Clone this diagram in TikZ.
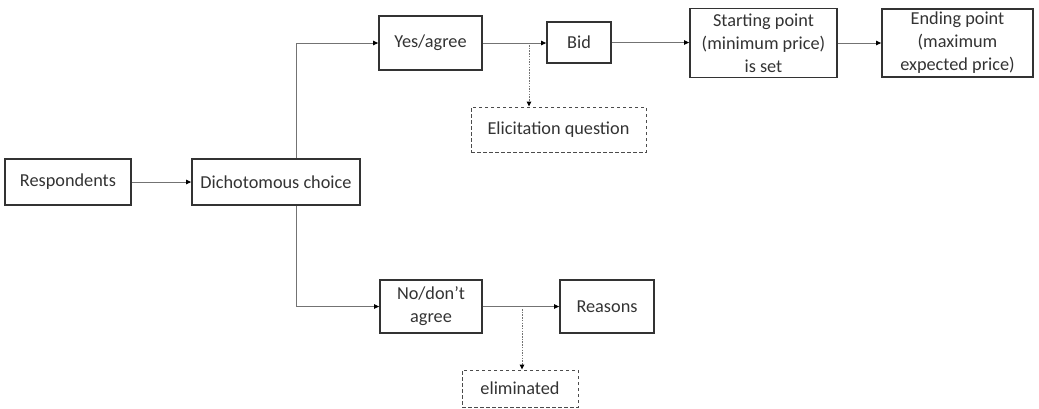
\documentclass[tikz,border=0pt]{standalone}
\usepackage{fontspec}
\setmainfont{Carlito}
\usetikzlibrary{arrows.meta}
\newlength{\du}
\setlength{\du}{0.75pt}

\begin{document}
\begin{tikzpicture}[
  box/.style={draw=boxcolor, line width=1.8\du, text=textcolor, align=center,
    inner sep=0pt, font=\fontsize{13.7}{17.2}\selectfont},
  dashbox/.style={box, draw=dashcolor, line width=1\du, dash pattern=on 3.5\du off 2.5\du},
  link/.style={draw=linkcolor, line width=1\du, -{Triangle[length=3.75pt,width=3.4pt,color=black]}},
  taplink/.style={link, dash pattern=on 1.5\du off 1.2\du},
]
\pgftransformxscale{1.000000}
\pgftransformyscale{-1.000000}
\definecolor{boxcolor}{rgb}{0.200000, 0.200000, 0.200000}
\definecolor{dashcolor}{rgb}{0.300000, 0.300000, 0.300000}
\definecolor{textcolor}{rgb}{0.200000, 0.200000, 0.200000}
\definecolor{linkcolor}{rgb}{0.450000, 0.450000, 0.450000}
\useasboundingbox (0\du,0\du) rectangle (1039\du,408\du);
% boxes
\node[box, minimum width=126\du, minimum height=46\du] (resp) at (68\du,182\du){Respondents};
\node[box, minimum width=168\du, minimum height=46\du] (dich) at (276\du,182\du){Dichotomous choice};
\node[box, minimum width=103\du, minimum height=54\du] (yes) at (430.5\du,43\du){Yes/agree};
\node[box, minimum width=64\du, minimum height=41\du] (bid) at (579\du,42.5\du){Bid};
\node[box, minimum width=147\du, minimum height=69\du] (start) at (763.5\du,43\du){Starting point\\(minimum price)\\is set};
\node[box, minimum width=151\du, minimum height=68\du] (end) at (957.5\du,43\du){Ending point\\(maximum\\expected price)};
\node[dashbox, minimum width=175\du, minimum height=45\du] (elic) at (558.5\du,129.5\du){Elicitation question};
\node[box, minimum width=102\du, minimum height=53\du] (no) at (431\du,306.5\du){No/don't\\agree};
\node[box, minimum width=94\du, minimum height=53\du] (reasons) at (607\du,306.5\du){Reasons};
\node[dashbox, minimum width=116\du, minimum height=37\du] (elim) at (520\du,388.5\du){eliminated};
% taps on the lines
\coordinate (ytap) at (529\du,43\du);
\coordinate (ntap) at (522\du,307\du);
% connectors
\draw[link] (resp.east) -- (dich.west);
\draw[link] ([xshift=20\du]dich.north) |- (yes.west);
\draw[link] ([xshift=20\du]dich.south) |- (no.west);
\draw[link] (yes.east) -- (yes.east -| bid.west);
\draw[link] (bid.east) -- (bid.east -| start.west);
\draw[link] (start.east) -- (start.east -| end.west);
\draw[link] (no.east) -- (no.east -| reasons.west);
\draw[taplink] ([yshift=2\du]ytap) -- (ytap |- elic.north);
\draw[taplink] ([yshift=2\du]ntap) -- (ntap |- elim.north);
\end{tikzpicture}
\end{document}
